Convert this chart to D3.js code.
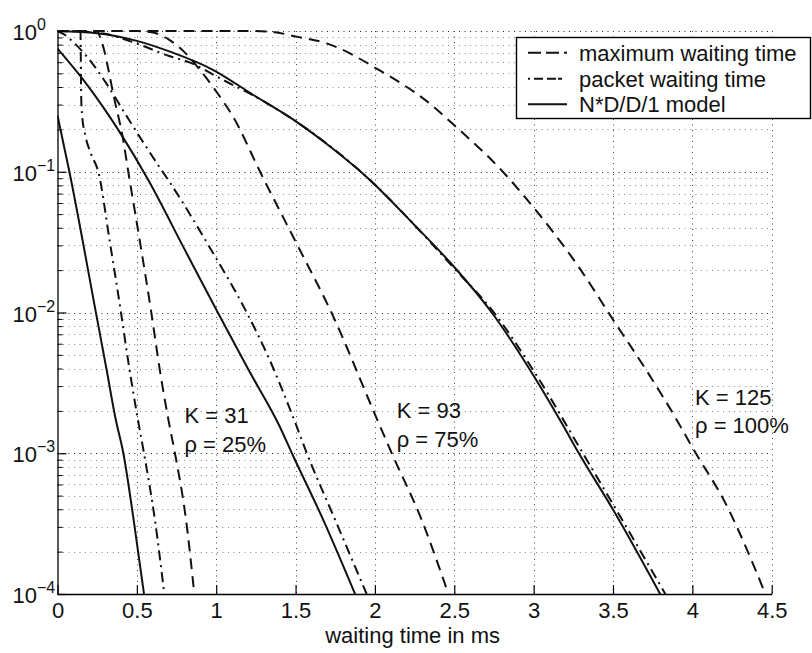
<!DOCTYPE html>
<html>
<head>
<meta charset="utf-8">
<script src="https://cdnjs.cloudflare.com/ajax/libs/d3/7.8.5/d3.min.js"></script>
<style>
  html, body { margin: 0; padding: 0; background: #fff; }
  svg { display: block; }
  text { font-family: "Liberation Sans", Arial, Helvetica, sans-serif; fill: #111; }
</style>
</head>
<body>
<svg id="chart" width="812" height="653"></svg>
<script>
// Verteilung der Wartezeit, drei Lastfaelle (K = 31, 93, 125)

const xTicks = [0, 0.5, 1, 1.5, 2, 2.5, 3, 3.5, 4, 4.5];
const xTickLabels = ['0', '0.5', '1', '1.5', '2', '2.5', '3', '3.5', '4', '4.5'];
const yExponents = [0, -1, -2, -3, -4];
const yTickLabels = ['0', '\u22121', '\u22122', '\u22123', '\u22124'];
const xLabel = 'waiting time in ms';
const legendLabels = ['maximum waiting time', 'packet waiting time', 'N*D/D/1 model'];

// [waiting time in ms, probability]
// K = 31, rho = 25%
const maxWait31 = [[0, 1], [0.25, 1], [0.27, 0.891], [0.29, 0.759], [0.32, 0.537], [0.35, 0.363],
  [0.414, 0.168], [0.446, 0.1], [0.52, 0.0316], [0.591, 0.01], [0.645, 0.00389], [0.70, 0.0017],
  [0.74, 0.001], [0.81, 0.000335], [0.862, 0.0001]];
const packetWait31 = [[0, 1], [0.145, 1], [0.147, 0.631], [0.149, 0.355], [0.155, 0.251], [0.175, 0.182],
  [0.21, 0.135], [0.257, 0.1], [0.33, 0.0316], [0.40, 0.01], [0.446, 0.00447], [0.5, 0.00191],
  [0.545, 0.001], [0.614, 0.000335], [0.673, 0.0001]];
const model31 = [[0, 0.251], [0.075, 0.1], [0.242, 0.01], [0.31, 0.00389], [0.365, 0.00178],
  [0.415, 0.001], [0.48, 0.000335], [0.545, 0.0001]];

// K = 93, rho = 75%
const maxWait93 = [[0, 1], [0.5, 0.998], [0.6, 0.977], [0.7, 0.871], [0.8, 0.708], [0.898, 0.528],
  [1.0, 0.372], [1.106, 0.246], [1.285, 0.0955], [1.528, 0.0277], [1.717, 0.0105], [2.011, 0.00177],
  [2.106, 0.001], [2.295, 0.000335], [2.463, 0.0001]];
const packetWait93 = [[0, 1], [0.05, 0.933], [0.1, 0.832], [0.194, 0.64], [0.3, 0.437], [0.45, 0.234],
  [0.633, 0.112], [0.698, 0.0873], [0.95, 0.0302], [1.192, 0.01], [1.33, 0.00479], [1.497, 0.00166],
  [1.571, 0.001], [1.75, 0.000335], [1.948, 0.0001]];
const model93 = [[0, 0.75], [0.163, 0.449], [0.404, 0.182], [0.572, 0.0873], [0.8, 0.0282], [1.01, 0.01],
  [1.2, 0.00398], [1.40, 0.00155], [1.477, 0.001], [1.675, 0.000335], [1.875, 0.0001]];

// K = 125, rho = 100%
const maxWait125 = [[0, 1], [1.2, 1], [1.34, 0.989], [1.507, 0.912], [1.696, 0.817], [2.03, 0.525],
  [2.35, 0.302], [2.49, 0.219], [2.806, 0.1], [2.96, 0.0631], [3.29, 0.0206], [3.5, 0.0089],
  [3.71, 0.00389], [3.9, 0.00174], [4.0, 0.0011], [4.22, 0.000417], [4.38, 0.000166], [4.46, 0.0001]];
const packetWait125 = [[0, 1], [0.15, 0.99], [0.3, 0.955], [0.5, 0.813], [0.709, 0.661], [0.835, 0.596],
  [1.024, 0.461], [1.3, 0.316], [1.6, 0.191], [1.97, 0.0871], [2.25, 0.0417], [2.494, 0.0209],
  [2.75, 0.01], [3.02, 0.00355], [3.31, 0.001], [3.52, 0.000398], [3.83, 0.0001]];
const model125 = [[0, 1], [0.25, 0.964], [0.5, 0.851], [0.709, 0.713], [0.982, 0.528], [1.234, 0.351],
  [1.507, 0.226], [1.717, 0.151], [1.97, 0.0871], [2.25, 0.0417], [2.494, 0.0214], [2.736, 0.01],
  [3.0, 0.00355], [3.185, 0.00158], [3.285, 0.001], [3.5, 0.000398], [3.797, 0.0001]];

const annotationText = [['K = 31', '\u03c1 = 25%'], ['K = 93', '\u03c1 = 75%'], ['K = 125', '\u03c1 = 100%']];
const annotationX = [0.80, 2.137, 4.017];
const annotationY = [0.00164, 0.00178, 0.00222];

const DASHED = '11,7';
const DASHDOT = '10,5,2,5';

const svg = d3.select('#chart');
const plotLeft = 57.5, plotRight = 771.7, plotTop = 31, plotBottom = 594;

const x = d3.scaleLinear().domain([0, 4.5]).range([plotLeft, plotRight]);
const y = d3.scaleLog().domain([1e-4, 1]).range([plotBottom, plotTop]);

const majorY = yExponents.map(e => Math.pow(10, e));
const minorY = [];
yExponents.slice(1).forEach(e => {
    for (let k = 2; k <= 9; k++) minorY.push(k * Math.pow(10, e));
});

const crisp = v => Math.round(v) + 0.5;

// Gitter
const grid = svg.append('g').attr('class', 'grid');
grid.selectAll('line.minor')
    .data(minorY)
    .join('line')
    .attr('class', 'minor')
    .attr('x1', plotLeft).attr('x2', plotRight)
    .attr('y1', d => crisp(y(d))).attr('y2', d => crisp(y(d)))
    .attr('stroke', '#8a8a8a')
    .attr('stroke-width', 1)
    .attr('stroke-dasharray', '1,4.5');

grid.selectAll('line.major')
    .data(majorY)
    .join('line')
    .attr('class', 'major')
    .attr('x1', plotLeft).attr('x2', plotRight)
    .attr('y1', d => crisp(y(d))).attr('y2', d => crisp(y(d)))
    .attr('stroke', '#222')
    .attr('stroke-width', 1)
    .attr('stroke-dasharray', '1,4.5');

grid.selectAll('line.vert')
    .data(xTicks.slice(1))
    .join('line')
    .attr('class', 'vert')
    .attr('x1', d => crisp(x(d))).attr('x2', d => crisp(x(d)))
    .attr('y1', plotTop).attr('y2', plotBottom)
    .attr('stroke', '#444')
    .attr('stroke-width', 1)
    .attr('stroke-dasharray', '1,4.5');

// Kurven
svg.append('defs').append('clipPath').attr('id', 'plotclip')
    .append('rect')
    .attr('x', plotLeft).attr('y', plotTop - 2)
    .attr('width', plotRight - plotLeft).attr('height', plotBottom - plotTop + 2);

const line = d3.line()
    .x(d => x(d[0]))
    .y(d => y(d[1]))
    .curve(d3.curveMonotoneX);

const curves = [
    { data: model31, dash: null },
    { data: packetWait31, dash: DASHDOT },
    { data: maxWait31, dash: DASHED },
    { data: model93, dash: null },
    { data: packetWait93, dash: DASHDOT },
    { data: maxWait93, dash: DASHED },
    { data: model125, dash: null },
    { data: packetWait125, dash: DASHDOT },
    { data: maxWait125, dash: DASHED }
];

svg.append('g')
    .attr('clip-path', 'url(#plotclip)')
    .selectAll('path')
    .data(curves)
    .join('path')
    .attr('d', d => line(d.data))
    .attr('fill', 'none')
    .attr('stroke', '#111')
    .attr('stroke-width', 2)
    .attr('stroke-dasharray', d => d.dash);

// Achsen
const xAxis = d3.axisBottom(x)
    .tickValues(xTicks)
    .tickSizeInner(-9)
    .tickSizeOuter(0)
    .tickPadding(8.5)
    .tickFormat((d, i) => xTickLabels[i]);

const gx = svg.append('g')
    .attr('transform', `translate(0,${plotBottom})`)
    .call(xAxis);
gx.select('.domain').attr('stroke', '#000').attr('stroke-width', 1.3);
gx.selectAll('.tick line').attr('stroke', '#000').attr('stroke-width', 1.2);
gx.selectAll('.tick text')
    .style('font-size', '22px')
    .style('font-family', '"Liberation Sans", Arial, sans-serif')
    .attr('fill', '#111');

const gyMinor = svg.append('g')
    .attr('transform', `translate(${plotLeft},0)`)
    .call(d3.axisLeft(y).tickValues(minorY).tickSizeInner(-5).tickSizeOuter(0).tickFormat(''));
gyMinor.select('.domain').remove();
gyMinor.selectAll('.tick line').attr('stroke', '#000').attr('stroke-width', 1);

const gy = svg.append('g')
    .attr('transform', `translate(${plotLeft},0)`)
    .call(d3.axisLeft(y).tickValues(majorY).tickSizeInner(-9).tickSizeOuter(0).tickFormat(''));
gy.select('.domain').attr('stroke', '#000').attr('stroke-width', 1.3);
gy.selectAll('.tick line').attr('stroke', '#000').attr('stroke-width', 1.2);

// Beschriftung der log-Achse: 10 mit Exponent
const yLabels = svg.append('g');
yExponents.forEach((e, i) => {
    const t = yLabels.append('text')
        .attr('x', 12.5)
        .attr('y', y(Math.pow(10, e)) + 9)
        .style('font-size', '22px');
    t.append('tspan').text('10');
    t.append('tspan')
        .attr('dy', -10)
        .style('font-size', '16px')
        .text(yTickLabels[i]);
});

svg.append('text')
    .attr('x', (plotLeft + plotRight) / 2 - 2)
    .attr('y', 643)
    .attr('text-anchor', 'middle')
    .style('font-size', '22px')
    .text(xLabel);

// Annotationen
annotationText.forEach((lines, i) => {
    lines.forEach((s, j) => {
        svg.append('text')
            .attr('x', x(annotationX[i]))
            .attr('y', y(annotationY[i]) + j * 28.5)
            .style('font-size', '22px')
            .text(s);
    });
});

// Legende
const legend = svg.append('g');
legend.append('rect')
    .attr('x', 516.5).attr('y', 37.5)
    .attr('width', 294).attr('height', 81)
    .attr('fill', '#fff')
    .attr('stroke', '#000')
    .attr('stroke-width', 1.4);

const legendDash = ['13,5', '2,4,9,4,9', null];
const legendRowY = [52.7, 78.7, 104.3];
legendLabels.forEach((label, i) => {
    legend.append('line')
        .attr('x1', 528).attr('x2', 567)
        .attr('y1', legendRowY[i]).attr('y2', legendRowY[i])
        .attr('stroke', '#111')
        .attr('stroke-width', 2)
        .attr('stroke-dasharray', legendDash[i]);
    legend.append('text')
        .attr('x', 579)
        .attr('y', legendRowY[i] + 8)
        .style('font-size', '22px')
        .text(label);
});
</script>
</body>
</html>
